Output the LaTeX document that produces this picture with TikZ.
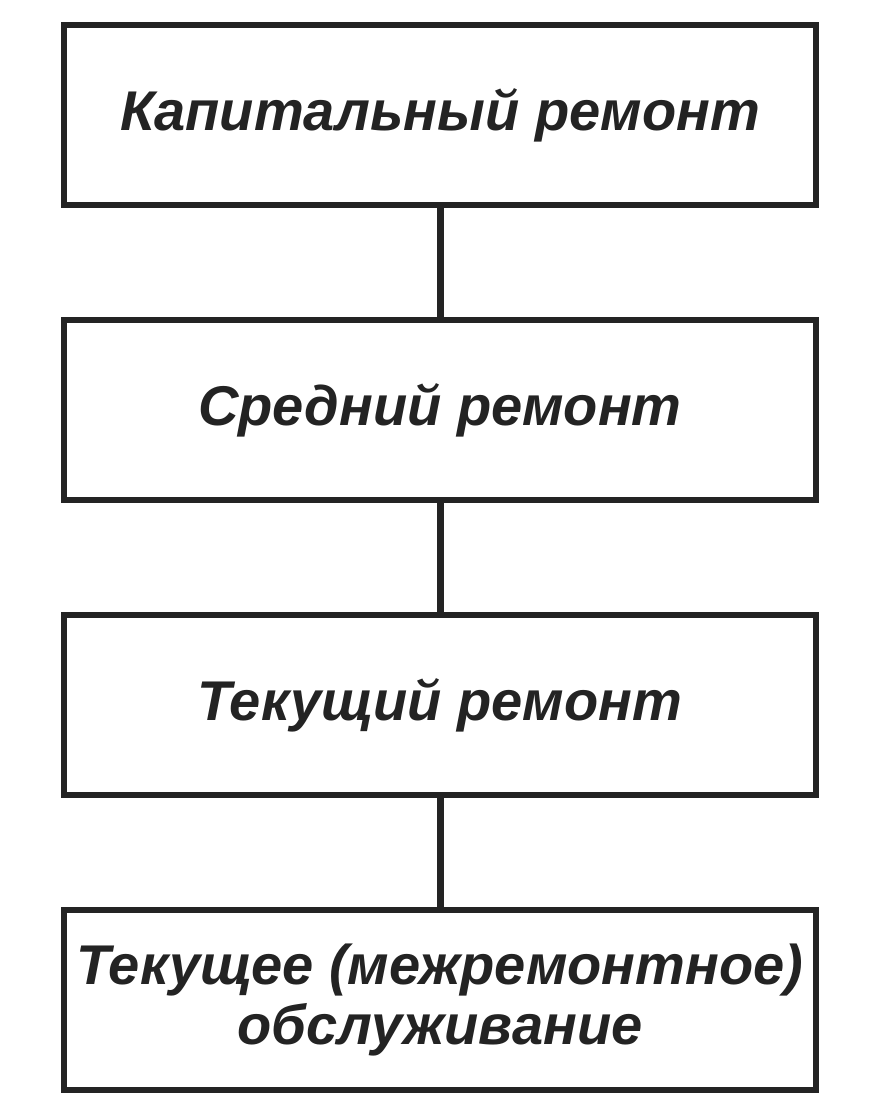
\documentclass[tikz,border=0pt]{standalone}
\usepackage{fontspec}
\setmainfont{Liberation Sans}
\definecolor{ink}{HTML}{232323}
\begin{document}
\begin{tikzpicture}[x=1pt,y=-1pt,
  box/.style={draw=ink,line width=6.5pt,minimum width=752pt,minimum height=180pt,
    align=center,inner sep=0pt,text=ink,font=\fontsize{56}{60}\selectfont\bfseries\itshape},
  link/.style={draw=ink,line width=7pt}]
\useasboundingbox (0,0) rectangle (888,1108);
\fill[white] (0,0) rectangle (888,1108);
\node[box] (b1) at (440,115) {Капитальный ремонт};
\node[box] (b2) at (440,410) {Средний ремонт};
\node[box] (b3) at (440,705) {Текущий ремонт};
\node[box] (b4) at (440,1000) {Текущее (межремонтное)\\обслуживание};
\draw[link] (b1.south) -- (b2.north);
\draw[link] (b2.south) -- (b3.north);
\draw[link] (b3.south) -- (b4.north);
\end{tikzpicture}
\end{document}
